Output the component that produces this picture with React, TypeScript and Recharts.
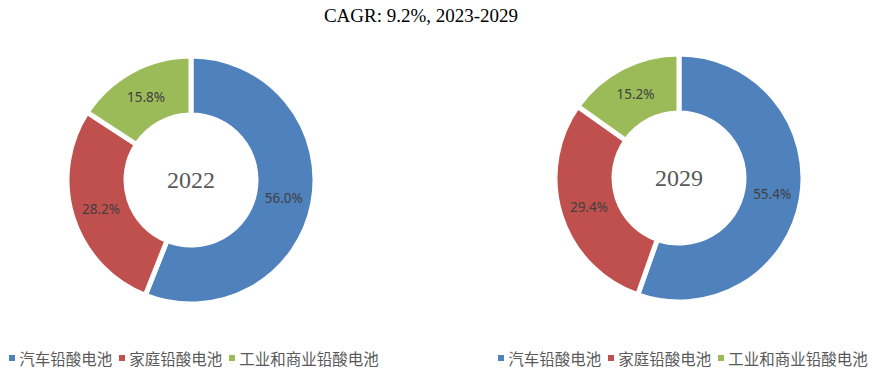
import React from "react";
import { PieChart, Pie, Cell, Legend } from "recharts";

const categories = ["汽车铅酸电池", "家庭铅酸电池", "工业和商业铅酸电池"];
const colors = ["#4F81BD", "#C0504D", "#9BBB59"];
const share2022 = [56.0, 28.2, 15.8];
const share2029 = [55.4, 29.4, 15.2];
const title = "CAGR: 9.2%, 2023-2029";

const RAD = Math.PI / 180;

function toRows(values: number[]) {
  return categories.map((name, i) => ({ name, value: values[i] }));
}

function renderLabel(props: any) {
  const { cx, cy, midAngle, innerRadius, outerRadius, value } = props;
  const r = (innerRadius + outerRadius) / 2;
  const x = cx + r * Math.cos(-midAngle * RAD);
  const y = cy + r * Math.sin(-midAngle * RAD);
  return (
    <text
      x={x}
      y={y}
      textAnchor="middle"
      dominantBaseline="central"
      fill="#404040"
      fontSize={13.5}
      fontFamily="'Noto Sans', sans-serif"
    >
      {value.toFixed(1)}%
    </text>
  );
}

// keep the legend in data order (recharts sorts it by default)
function LegendContent() {
  return (
    <div
      style={{
        display: "flex",
        justifyContent: "center",
        alignItems: "center",
        fontSize: 15.5,
        fontFamily: "'Noto Sans CJK SC', sans-serif",
        color: "#595959",
        whiteSpace: "nowrap",
      }}
    >
      {categories.map((name, i) => (
        <span
          key={name}
          style={{ display: "flex", alignItems: "center", marginRight: i < categories.length - 1 ? 7 : 0 }}
        >
          <span style={{ width: 6, height: 6, background: colors[i], marginRight: 4 }} />
          {name}
        </span>
      ))}
    </div>
  );
}

function Donut({
  values,
  year,
  left,
  width,
  cx,
  cy,
}: {
  values: number[];
  year: string;
  left: number;
  width: number;
  cx: number;
  cy: number;
}) {
  return (
    <div style={{ position: "absolute", left, top: 0, width, height: 375 }}>
      <PieChart width={width} height={375} margin={{ top: 0, right: 0, bottom: 0, left: 0 }}>
        <Pie
          data={toRows(values)}
          dataKey="value"
          nameKey="name"
          cx={cx}
          cy={cy}
          innerRadius={65}
          outerRadius={124}
          startAngle={90}
          endAngle={-270}
          stroke="#ffffff"
          strokeWidth={5}
          label={renderLabel}
          labelLine={false}
          isAnimationActive={false}
        >
          {values.map((_, i) => (
            <Cell key={categories[i]} fill={colors[i]} />
          ))}
        </Pie>
        <Legend verticalAlign="bottom" align="center" wrapperStyle={{ bottom: 6 }} content={LegendContent} />
      </PieChart>
      <div
        style={{
          position: "absolute",
          left: cx - 50,
          top: cy - 16,
          width: 100,
          height: 32,
          lineHeight: "32px",
          textAlign: "center",
          fontFamily: "'Liberation Serif', serif",
          fontSize: 24,
          color: "#595959",
          pointerEvents: "none",
        }}
      >
        {year}
      </div>
    </div>
  );
}

export default function App() {
  return (
    <div
      style={{
        position: "absolute",
        left: 0,
        top: 0,
        width: 872,
        height: 375,
        background: "#ffffff",
        overflow: "hidden",
      }}
    >
      <div
        style={{
          position: "absolute",
          left: 0,
          top: 5,
          width: 842,
          textAlign: "center",
          fontFamily: "'Liberation Serif', serif",
          fontSize: 19,
          color: "#000000",
        }}
      >
        {title}
      </div>
      <Donut values={share2022} year="2022" left={0} width={388} cx={191} cy={180} />
      <Donut values={share2029} year="2029" left={490} width={386} cx={189} cy={178} />
    </div>
  );
}
